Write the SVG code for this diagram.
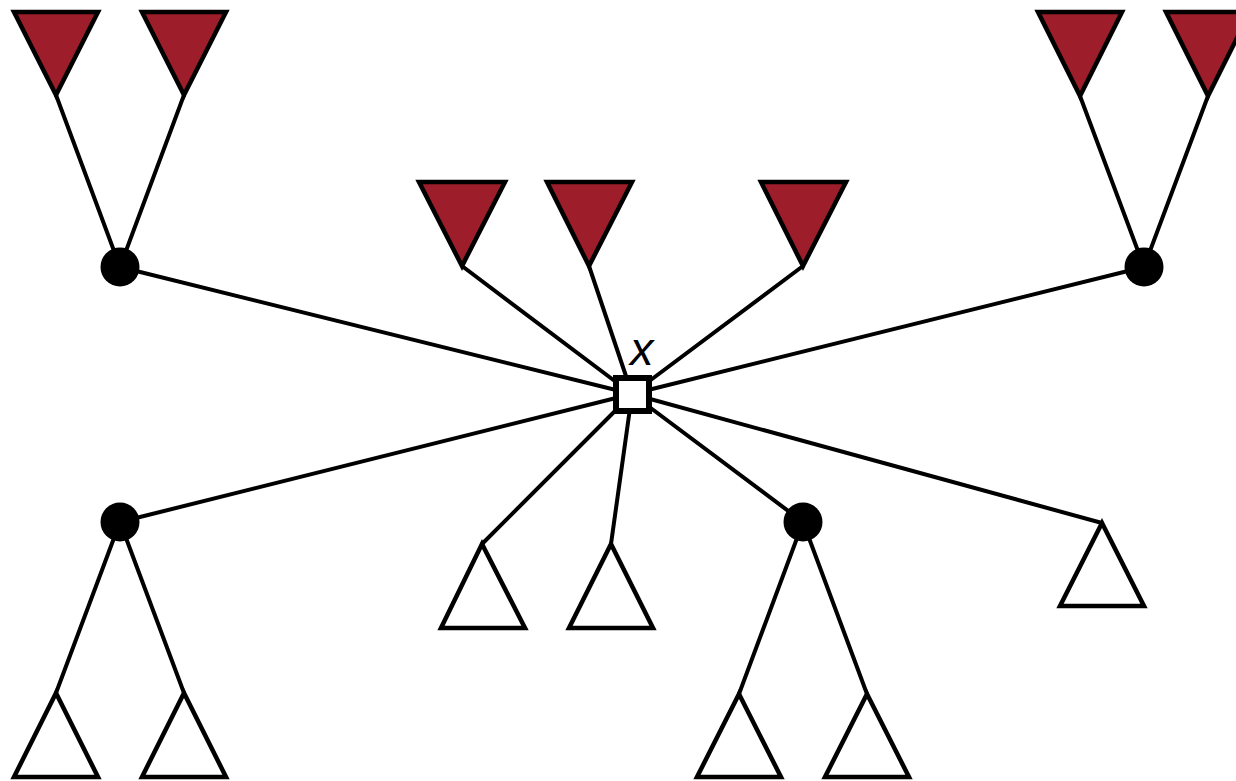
<svg xmlns="http://www.w3.org/2000/svg" width="1236" height="781" viewBox="0 0 1236 781">
<style>
.e{stroke:#000;stroke-width:4;fill:none;stroke-linecap:round}
.r{fill:#9d1e2a;stroke:#000;stroke-width:4.5;stroke-linejoin:miter}
.w{fill:#fff;stroke:#000;stroke-width:4.5;stroke-linejoin:miter}
.d{fill:#000}
.sq{fill:#fff;stroke:#000;stroke-width:6}
.lbl{font-family:"Liberation Sans",Arial,sans-serif;font-style:italic;font-size:47px;fill:#000}
</style>
<rect width="1236" height="781" fill="#fff"/>
<g id="connectors">
<line class="e" x1="56" y1="95" x2="120" y2="267"/>
<line class="e" x1="184" y1="95" x2="120" y2="267"/>
<line class="e" x1="1080" y1="96" x2="1144" y2="267"/>
<line class="e" x1="1208" y1="96" x2="1144" y2="267"/>
<line class="e" x1="120" y1="267" x2="632" y2="394"/>
<line class="e" x1="1144" y1="267" x2="632" y2="394"/>
<line class="e" x1="462" y1="266" x2="632" y2="394"/>
<line class="e" x1="589" y1="266" x2="632" y2="394"/>
<line class="e" x1="803" y1="266" x2="632" y2="394"/>
<line class="e" x1="120" y1="522" x2="632" y2="394"/>
<line class="e" x1="482" y1="544" x2="632" y2="394"/>
<line class="e" x1="611" y1="544" x2="632" y2="394"/>
<line class="e" x1="803" y1="522" x2="632" y2="394"/>
<line class="e" x1="1102" y1="523" x2="632" y2="394"/>
<line class="e" x1="120" y1="522" x2="56" y2="693"/>
<line class="e" x1="120" y1="522" x2="184" y2="693"/>
<line class="e" x1="803" y1="522" x2="739" y2="694"/>
<line class="e" x1="803" y1="522" x2="867" y2="694"/>
</g>
<g id="tl1"><polygon class="r" points="14,12 98,12 56,95"/></g>
<g id="tl2"><polygon class="r" points="142,12 226,12 184,95"/></g>
<g id="tr1"><polygon class="r" points="1038,12 1122,12 1080,96"/></g>
<g id="tr2"><polygon class="r" points="1166,12 1250,12 1208,96"/></g>
<g id="tm1"><polygon class="r" points="419,182 505,182 462,266"/></g>
<g id="tm2"><polygon class="r" points="547,182 632,182 589,266"/></g>
<g id="tm3"><polygon class="r" points="761,182 846,182 803,266"/></g>
<g id="ctl"><circle class="d" cx="120" cy="267" r="19.5"/></g>
<g id="ctr"><circle class="d" cx="1144" cy="267" r="19.5"/></g>
<g id="cbl"><circle class="d" cx="120" cy="522" r="19.5"/></g>
<g id="cbm"><circle class="d" cx="803" cy="522" r="19.5"/></g>
<g id="bm1"><polygon class="w" points="482,544 525,628 441,628"/></g>
<g id="bm2"><polygon class="w" points="611,544 653,628 569,628"/></g>
<g id="bl1"><polygon class="w" points="56,693 98,777 14,777"/></g>
<g id="bl2"><polygon class="w" points="184,693 226,777 142,777"/></g>
<g id="bmm1"><polygon class="w" points="739,694 781,777 697,777"/></g>
<g id="bmm2"><polygon class="w" points="867,694 909,777 825,777"/></g>
<g id="br"><polygon class="w" points="1102,523 1144,606 1060,606"/></g>
<g id="x"><rect class="sq" x="616" y="378" width="33" height="33"/>
<text class="lbl" x="630" y="365">x</text></g>
</svg>
